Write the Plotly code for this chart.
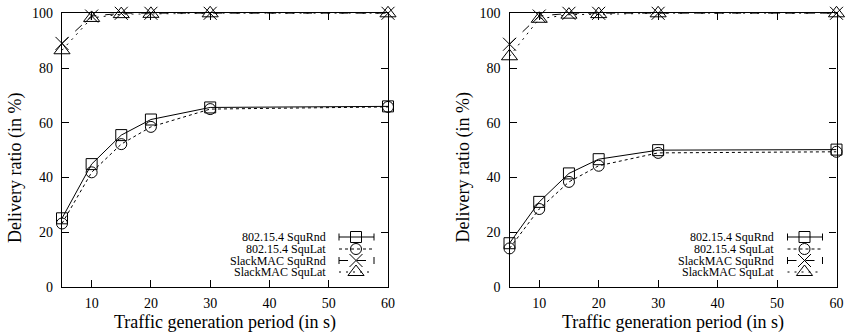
import plotly.graph_objects as go

# Traffic generation periods (s)
periods = [5, 10, 15, 20, 30, 60]

# Left panel: delivery ratio (%)
left_154_rnd = [25.1, 44.9, 55.5, 61.2, 65.6, 66.0]
left_154_lat = [23.2, 41.9, 52.2, 58.5, 65.0, 65.8]
left_slack_rnd = [89.0, 99.0, 100.0, 100.0, 100.0, 100.0]
left_slack_lat = [86.5, 98.3, 99.7, 99.8, 100.0, 100.0]

# Right panel: delivery ratio (%)
right_154_rnd = [16.0, 31.1, 41.5, 46.7, 50.0, 50.2]
right_154_lat = [14.1, 28.5, 38.4, 44.3, 49.0, 49.4]
right_slack_rnd = [88.7, 99.0, 100.0, 100.0, 100.0, 100.0]
right_slack_lat = [84.3, 98.0, 99.5, 99.7, 100.0, 100.0]

series_names = ["802.15.4 SquRnd", "802.15.4 SquLat",
                "SlackMAC SquRnd", "SlackMAC SquLat"]
x_ticks = [10, 20, 30, 40, 50, 60]
y_ticks = [0, 20, 40, 60, 80, 100]

W, H = 847, 335
FONT = "Liberation Serif"

# visual style per series: (dash, marker symbol, marker size)
styles = [
    ("solid", "square-open", 11),
    ("dot", "circle-open", 11),
    ("dash", "x-thin-open", 13),
    ("2px,5px", "triangle-up-open", 14),
]

panels = [
    ("x", "y", [left_154_rnd, left_154_lat, left_slack_rnd, left_slack_lat],
     [62 / W, 388 / W]),
    ("x2", "y2", [right_154_rnd, right_154_lat, right_slack_rnd, right_slack_lat],
     [509.5 / W, 836.5 / W]),
]
y_domain = [1 - 287 / H, 1 - 13.3 / H]

fig = go.Figure()

for xa, ya, series, _ in panels:
    for name, vals, (dash, sym, size) in zip(series_names, series, styles):
        fig.add_trace(go.Scatter(
            x=periods, y=vals, xaxis=xa, yaxis=ya, name=name,
            mode="lines+markers", showlegend=False, cliponaxis=False,
            line=dict(color="black", width=1, dash=dash),
            marker=dict(symbol=sym, size=size, color="black",
                        line=dict(color="black", width=1)),
        ))

axis_common = dict(
    showline=True, linecolor="black", linewidth=1.3, mirror="ticks",
    ticks="inside", ticklen=7, tickwidth=1, tickcolor="black",
    showgrid=False, zeroline=False, automargin=False,
    tickfont=dict(family=FONT, size=14, color="black"),
)

layout = dict(
    width=W, height=H,
    margin=dict(l=0, r=0, t=0, b=0, pad=0, autoexpand=False),
    paper_bgcolor="white", plot_bgcolor="rgba(0,0,0,0)",
    showlegend=False,
    font=dict(family=FONT, color="black"),
    # pixel-space overlay used for the legend keys
    xaxis3=dict(domain=[0, 1], range=[0, W], visible=False, anchor="y3",
                automargin=False),
    yaxis3=dict(domain=[0, 1], range=[H, 0], visible=False, anchor="x3",
                automargin=False),
)
for i, (xa, ya, _, dom) in enumerate(panels):
    xk = "xaxis" if i == 0 else "xaxis2"
    yk = "yaxis" if i == 0 else "yaxis2"
    layout[xk] = dict(axis_common, domain=dom, range=[5, 60], tickvals=x_ticks,
                      anchor=ya, ticklabelstandoff=3)
    layout[yk] = dict(axis_common, domain=y_domain, range=[0, 100],
                      tickvals=y_ticks, anchor=xa, ticklabelstandoff=5)
fig.update_layout(**layout)

annotations = []
title_font = dict(family=FONT, size=18, color="black")
for _, _, _, dom in panels:
    annotations.append(dict(
        text="Traffic generation period (in s)", xref="paper", yref="paper",
        x=(dom[0] + dom[1]) / 2, y=1 - 322 / H, xanchor="center",
        yanchor="middle", showarrow=False, font=title_font))
    annotations.append(dict(
        text="Delivery ratio (in %)", xref="paper", yref="paper",
        x=dom[0] - 46.5 / W, y=1 - 167.5 / H, xanchor="center",
        yanchor="middle", textangle=-90, showarrow=False, font=title_font))

# legend keys: text right-aligned, sample line with marker to its right
row_y = [237, 249, 260.5, 272]
for _, _, _, dom in panels:
    right_px = dom[1] * W
    text_r = right_px - 60.5
    l0, l1 = right_px - 49, right_px - 14
    mid = right_px - 32
    for k, (name, (dash, sym, size)) in enumerate(zip(series_names, styles)):
        yy = row_y[k]
        annotations.append(dict(
            text=name, xref="x3", yref="y3", x=text_r, y=yy,
            xanchor="right", yanchor="middle", showarrow=False,
            font=dict(family=FONT, size=12, color="black")))
        fig.add_trace(go.Scatter(
            x=[l0, l1], y=[yy, yy], xaxis="x3", yaxis="y3", mode="lines",
            showlegend=False, hoverinfo="skip",
            line=dict(color="black", width=1, dash=dash)))
        if k in (0, 2):
            for cx in (l0, l1):
                fig.add_trace(go.Scatter(
                    x=[cx, cx], y=[yy - 3.5, yy + 3.5], xaxis="x3", yaxis="y3",
                    mode="lines", showlegend=False, hoverinfo="skip",
                    line=dict(color="black", width=1)))
        fig.add_trace(go.Scatter(
            x=[mid], y=[yy], xaxis="x3", yaxis="y3", mode="markers",
            showlegend=False, hoverinfo="skip", cliponaxis=False,
            marker=dict(symbol=sym, size=size, color="black",
                        line=dict(color="black", width=1))))

fig.update_layout(annotations=annotations)
fig.write_html("out.html")
